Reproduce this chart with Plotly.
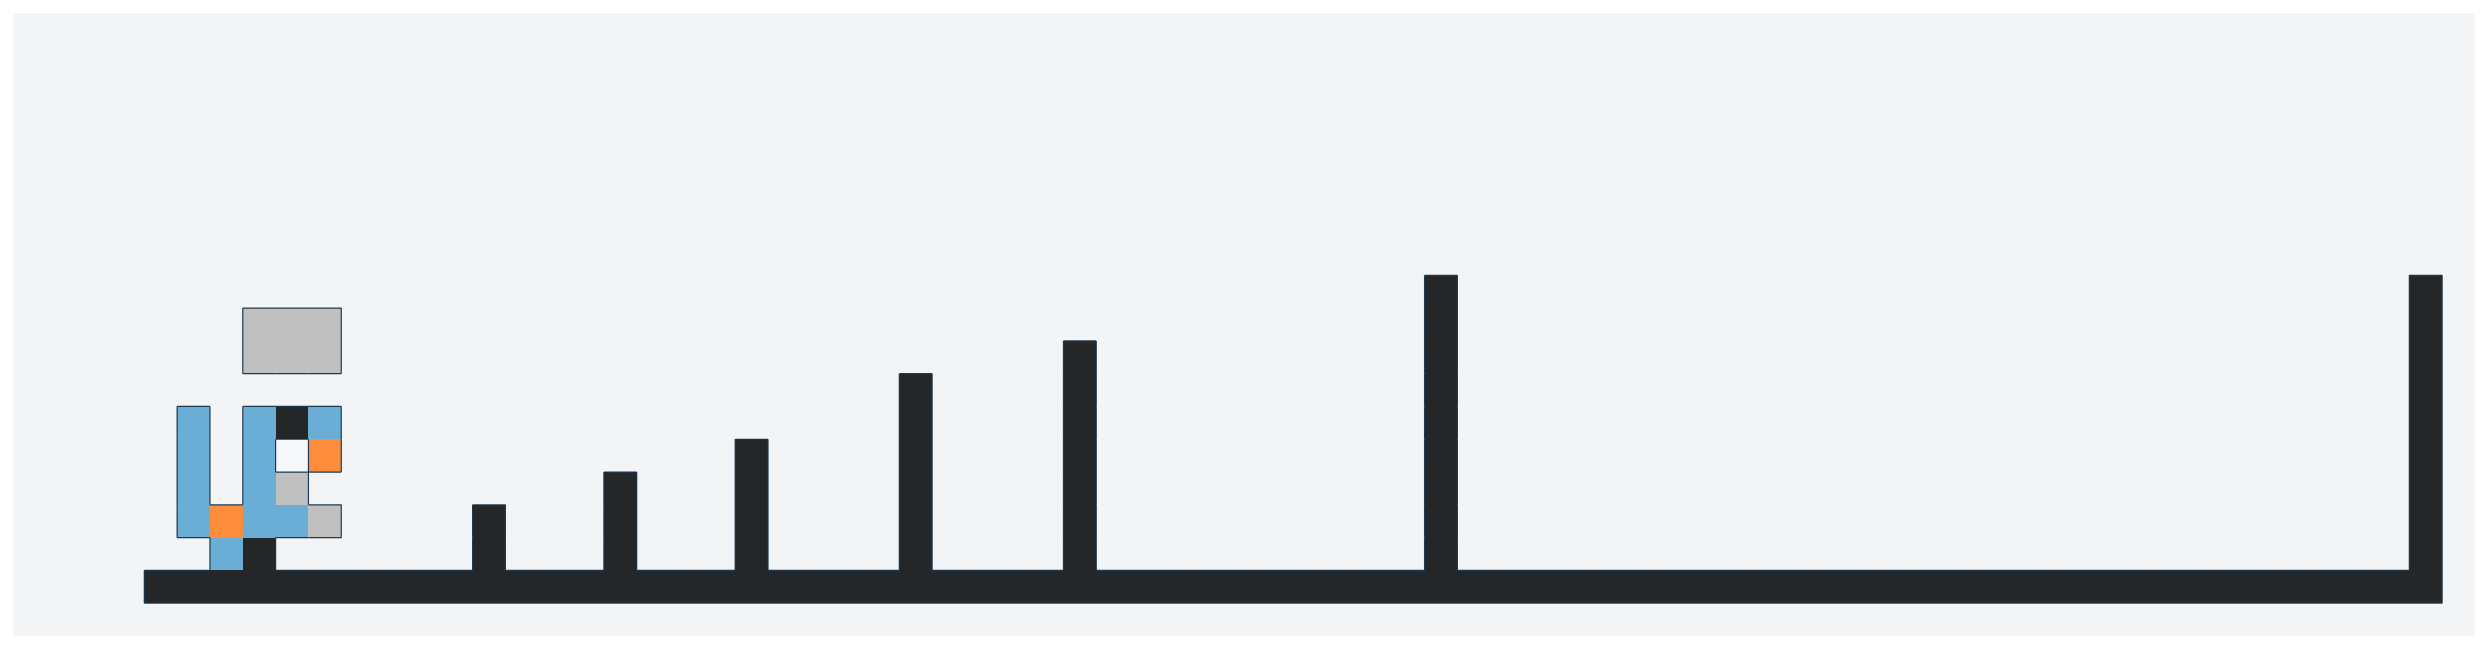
import plotly.graph_objects as go

# grid: columns -4..70, rows -1..17 (cell centres on integers)
x_cells = list(range(-4, 71))
y_cells = list(range(-1, 18))

# ground strip (row 0) and the pillars standing on it
ground_from, ground_to = 0, 69
pillar_cols = [10, 14, 18, 23, 28, 39, 69]
pillar_heights = [2, 3, 4, 6, 7, 9, 9]

# pieces on the left
blue_x = [1, 1, 1, 1, 2, 3, 3, 3, 3, 4, 5]
blue_y = [2, 3, 4, 5, 1, 2, 3, 4, 5, 2, 5]
orange_x = [2, 5]
orange_y = [2, 4]
black_x = [3, 4]
black_y = [1, 5]
gray_x = [4, 5, 3, 4, 5, 3, 4, 5]
gray_y = [3, 2, 7, 7, 7, 8, 8, 8]
white_x = [4]
white_y = [4]

colors = {
    "black": "#252627",
    "blue": "#6aaed6",
    "orange": "#fd8d3c",
    "gray": "#c0c0c0",
    "white": "#f7f8fa",
}

# collect cells per colour
cells = {k: set() for k in colors}
for c in range(ground_from, ground_to + 1):
    cells["black"].add((c, 0))
for c, h in zip(pillar_cols, pillar_heights):
    for r in range(1, h + 1):
        cells["black"].add((c, r))
for x, y in zip(black_x, black_y):
    cells["black"].add((x, y))
for x, y in zip(blue_x, blue_y):
    cells["blue"].add((x, y))
for x, y in zip(orange_x, orange_y):
    cells["orange"].add((x, y))
for x, y in zip(gray_x, gray_y):
    cells["gray"].add((x, y))
for x, y in zip(white_x, white_y):
    cells["white"].add((x, y))

fig = go.Figure()

for name, col in colors.items():
    z = [[1 if (x, y) in cells[name] else None for x in x_cells] for y in y_cells]
    fig.add_trace(go.Heatmap(
        x=x_cells, y=y_cells, z=z,
        colorscale=[[0, col], [1, col]],
        showscale=False, hoverinfo="skip",
    ))

# outline along the edge between filled and empty cells
filled = set()
for name in ["black", "blue", "orange", "gray"]:
    filled |= cells[name]

lx, ly = [], []
for (x, y) in filled:
    if (x - 1, y) not in filled:
        lx += [x - 0.5, x - 0.5, None]; ly += [y - 0.5, y + 0.5, None]
    if (x + 1, y) not in filled:
        lx += [x + 0.5, x + 0.5, None]; ly += [y - 0.5, y + 0.5, None]
    if (x, y - 1) not in filled:
        lx += [x - 0.5, x + 0.5, None]; ly += [y - 0.5, y - 0.5, None]
    if (x, y + 1) not in filled:
        lx += [x - 0.5, x + 0.5, None]; ly += [y + 0.5, y + 0.5, None]

fig.add_trace(go.Scatter(
    x=lx, y=ly, mode="lines",
    line=dict(color="#1c3a52", width=1.2),
    hoverinfo="skip", showlegend=False,
))

fig.update_layout(
    width=2471, height=633,
    margin=dict(l=5, r=4, t=5, b=5),
    paper_bgcolor="white",
    plot_bgcolor="#f3f4f6",
    showlegend=False,
    xaxis=dict(range=[-4.5, 70.5], visible=False, fixedrange=True),
    yaxis=dict(range=[-1.5, 17.5], visible=False, fixedrange=True),
)

fig.write_html("out.html")
